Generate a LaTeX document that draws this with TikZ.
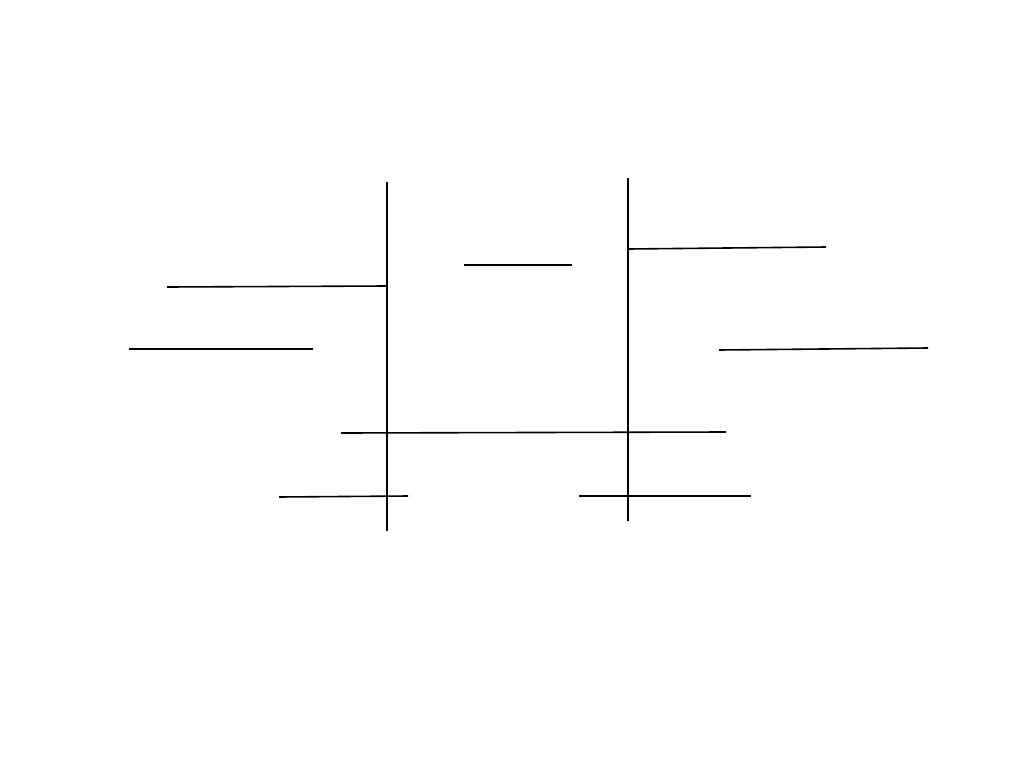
\documentclass[tikz,border=0pt]{standalone}
\begin{document}
\begin{tikzpicture}[x=1pt,y=-1pt,stroke/.style={draw=black,line width=1.6pt}]
\useasboundingbox (0,0) rectangle (1024,768);
\draw[stroke] (387,182) -- (387,531);
\draw[stroke] (628,178) -- (628,521);
\draw[stroke] (167,287) -- (387,286);
\draw[stroke] (464,265) -- (572,265);
\draw[stroke] (628,249) -- (826,247);
\draw[stroke] (129,349) -- (313,349);
\draw[stroke] (719,350) -- (928,348);
\draw[stroke] (341,433) -- (726,432);
\draw[stroke] (279,497) -- (408,496);
\draw[stroke] (579,496) -- (751,496);
\end{tikzpicture}
\end{document}
